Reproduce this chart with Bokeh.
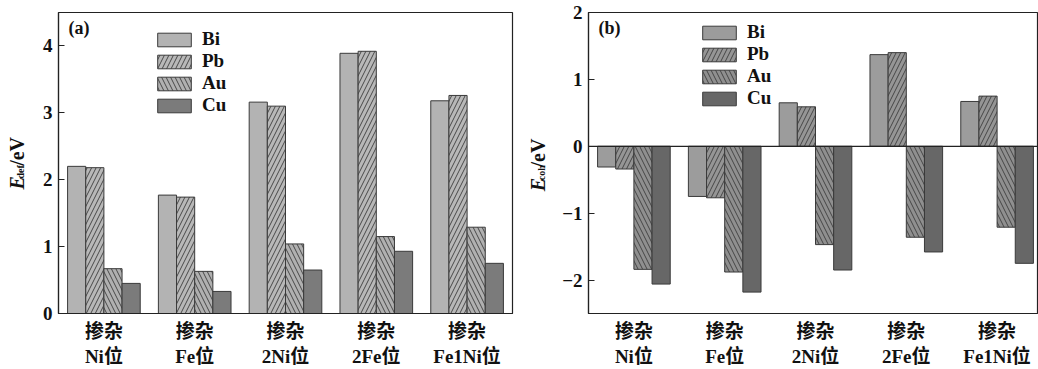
import math
from bokeh.plotting import figure
from bokeh.models import ColumnDataSource, Label, Legend, LegendItem, FixedTicker, Span
from bokeh.layouts import row
from bokeh.transform import dodge
from bokeh.embed import file_html
from bokeh.resources import INLINE

# ---------------- data ----------------
sites = ["掺杂\nNi位", "掺杂\nFe位", "掺杂\n2Ni位", "掺杂\n2Fe位", "掺杂\nFe1Ni位"]
series = ["Bi", "Pb", "Au", "Cu"]

e_def_bi = [2.20, 1.77, 3.16, 3.89, 3.18]
e_def_pb = [2.18, 1.74, 3.10, 3.92, 3.26]
e_def_au = [0.67, 0.63, 1.04, 1.15, 1.29]
e_def_cu = [0.45, 0.33, 0.65, 0.93, 0.75]

e_coh_bi = [-0.31, -0.75, 0.65, 1.37, 0.67]
e_coh_pb = [-0.34, -0.77, 0.59, 1.40, 0.75]
e_coh_au = [-1.84, -1.88, -1.47, -1.36, -1.21]
e_coh_cu = [-2.06, -2.18, -1.85, -1.58, -1.75]

yticks_a = [0, 1, 2, 3, 4]
yticks_b = [-2, -1, 0, 1, 2]

# ---------------- styles ----------------
SERIF = "Liberation Serif"
MIXED = "'Liberation Serif', 'Noto Sans CJK SC'"
INK = "#111111"
styles_a = {
    "Bi": dict(fill_color="#b3b3b3", hatch_pattern=None),
    "Pb": dict(fill_color="#b8b8b8", hatch_pattern="/"),
    "Au": dict(fill_color="#b0b0b0", hatch_pattern="\\"),
    "Cu": dict(fill_color="#7b7b7b", hatch_pattern=None),
}
styles_b = {
    "Bi": dict(fill_color="#9c9c9c", hatch_pattern=None),
    "Pb": dict(fill_color="#959595", hatch_pattern="/"),
    "Au": dict(fill_color="#8f8f8f", hatch_pattern="\\"),
    "Cu": dict(fill_color="#676767", hatch_pattern=None),
}
offsets = [-0.3, -0.1, 0.1, 0.3]
BAR_W = 0.2
H = 369
FRAME_TOP = 12
FRAME_H = 302
PPU_X = 454 / 5.0
YLAB_SHIFT = 26


def label_strip(width, sub, e_bottom, x_e, x_sub):
    """narrow figure that carries the composed y-axis title as real text"""
    f = figure(width=width, height=H, x_range=(0, width), y_range=(H, 0),
               x_axis_type=None, y_axis_type=None, output_backend="svg",
               toolbar_location=None, min_border=0, outline_line_color=None)
    f.xgrid.visible = False
    f.ygrid.visible = False
    f.border_fill_color = "white"
    common = dict(angle=math.pi / 2, text_font=SERIF, text_baseline="middle",
                  text_align="left", text_color=INK)
    e_bottom = e_bottom + YLAB_SHIFT
    f.add_layout(Label(x=x_e, y=e_bottom, text="E", text_font_style="bold italic",
                       text_font_size="20px", **common))
    sub_start = e_bottom - 13.5
    f.add_layout(Label(x=x_sub, y=sub_start, text=sub, text_font_style="bold",
                       text_font_size="10px", **common))
    ev_start = sub_start - 5.0 * len(sub) - 0.5
    f.add_layout(Label(x=x_e, y=ev_start, text="/eV", text_font_style="bold",
                       text_font_size="20px", **common))
    return f


def make_panel(values, styles, yr, yticks, width, border_left, border_right,
               xr_end, legend_loc, tag, tag_x):
    src = ColumnDataSource(dict(pos=list(range(1, len(sites) + 1)),
                                **{s: v for s, v in zip(series, values)}))
    p = figure(width=width, height=H, x_range=(0.5, xr_end), y_range=yr,
               output_backend="svg", toolbar_location=None,
               min_border_left=border_left, min_border_right=border_right,
               min_border_top=FRAME_TOP, min_border_bottom=H - FRAME_TOP - FRAME_H)
    p.xgrid.visible = False
    p.ygrid.visible = False
    p.outline_line_color = "#222222"
    p.outline_line_width = 1.2
    p.background_fill_color = "white"
    p.border_fill_color = "white"

    items = []
    for s, off in zip(series, offsets):
        st = styles[s]
        kw = dict(fill_color=st["fill_color"], line_color="#3a3a3a", line_width=1)
        if st["hatch_pattern"]:
            kw.update(hatch_pattern=st["hatch_pattern"], hatch_color="#3c3c3c",
                      hatch_weight=0.9, hatch_scale=9)
        r = p.vbar(x=dodge("pos", off), top=s, bottom=0, width=BAR_W, source=src, **kw)
        items.append(LegendItem(label=s, renderers=[r]))

    if yr[0] < 0:
        p.add_layout(Span(location=0, dimension="width", line_color="#222222", line_width=1.3))

    leg = Legend(items=items, location=legend_loc, padding=0, margin=0, spacing=0,
                 glyph_width=42, glyph_height=17, label_height=17, label_standoff=7,
                 border_line_alpha=0, background_fill_alpha=0,
                 label_text_font=SERIF, label_text_font_style="bold",
                 label_text_font_size="19px", label_text_color=INK)
    p.add_layout(leg, "center")

    xa = p.xaxis[0]
    xa.ticker = FixedTicker(ticks=list(range(1, len(sites) + 1)))
    xa.major_label_overrides = {i + 1: t for i, t in enumerate(sites)}
    xa.major_tick_line_color = None
    xa.minor_tick_line_color = None
    xa.axis_line_color = "#222222"
    xa.axis_line_width = 1.2
    xa.major_label_text_font = MIXED
    xa.major_label_text_font_style = "bold"
    xa.major_label_text_font_size = "19px"
    xa.major_label_text_color = INK
    xa.major_label_standoff = 1

    ya = p.yaxis[0]
    ya.ticker = FixedTicker(ticks=yticks)
    ya.major_label_overrides = {t: (str(t) if t >= 0 else "\u2212" + str(-t)) for t in yticks}
    ya.major_tick_in = 6
    ya.major_tick_out = 0
    ya.major_tick_line_color = "#222222"
    ya.minor_tick_line_color = None
    ya.axis_line_color = "#222222"
    ya.axis_line_width = 1.2
    ya.major_label_text_font = SERIF
    ya.major_label_text_font_style = "bold"
    ya.major_label_text_font_size = "19px"
    ya.major_label_text_color = INK
    ya.major_label_standoff = 6

    # panel tag, placed just inside the top-left corner of the frame
    ytop = yr[1] - (18 - FRAME_TOP) * (yr[1] - yr[0]) / FRAME_H
    p.add_layout(Label(x=tag_x, y=ytop, text=tag, text_font=SERIF,
                       text_font_style="bold", text_font_size="18px",
                       text_baseline="top", text_align="left", text_color=INK))
    return p


# panel (a): page x 0..520, frame 58..512
lab_a = label_strip(28, "def", 191, 16.5, 20.0)
pa = make_panel([e_def_bi, e_def_pb, e_def_au, e_def_cu], styles_a, (0, 4.5), yticks_a,
                492, 30, 8, 5.5, (95, 197), "(a)", 0.5 + 10 / PPU_X)
# panel (b): page x 520..1038, frame 588..1037
XB_W = 449
XB_END = 0.5 + XB_W / PPU_X
lab_b = label_strip(30, "coh", 193, 17.5, 21.0)
pb = make_panel([e_coh_bi, e_coh_pb, e_coh_au, e_coh_cu], styles_b, (-2.5, 2), yticks_b,
                488, 38, 1, XB_END, (110, 204), "(b)", 0.5 + 10 / PPU_X)

layout = row(lab_a, pa, lab_b, pb, spacing=0)
open("out.html", "w").write(file_html(layout, INLINE))
